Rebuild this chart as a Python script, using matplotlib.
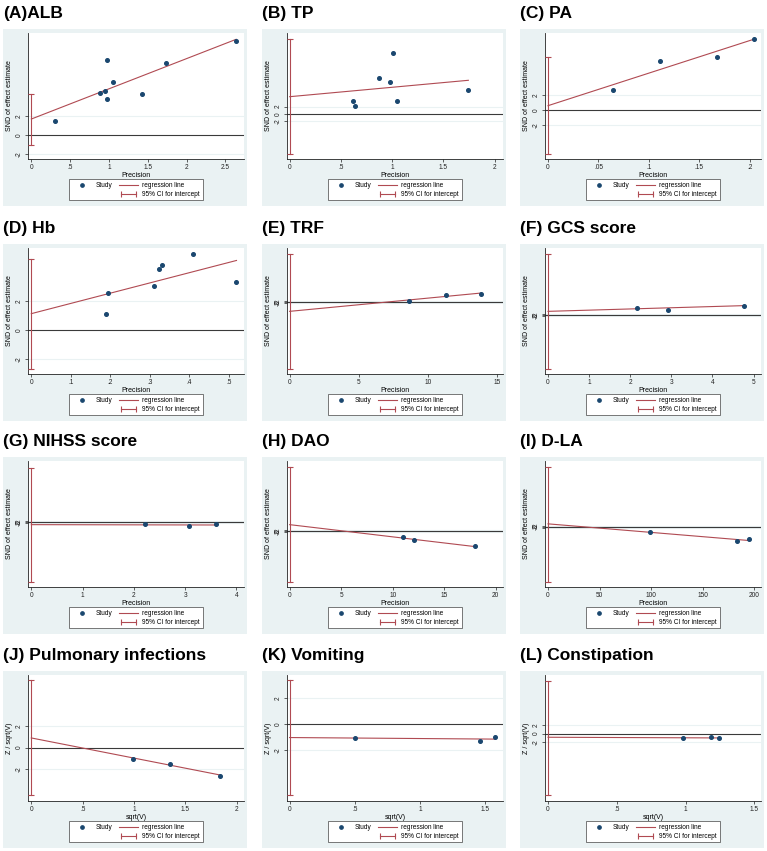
import matplotlib
matplotlib.use("Agg")
import matplotlib.pyplot as plt
from matplotlib.lines import Line2D
from matplotlib.patches import Rectangle
from matplotlib.legend_handler import HandlerLine2D

plt.rcParams['font.family'] = ['Liberation Sans', 'DejaVu Sans']

# ---- data (precision vs standard normal deviate) ----
titles = ["(A)ALB", "(B) TP", "(C) PA", "(D) Hb", "(E) TRF", "(F) GCS score",
          "(G) NIHSS score", "(H) DAO", "(I) D-LA", "(J) Pulmonary infections",
          "(K) Vomiting", "(L) Constipation"]

alb_x = [0.31, 0.885, 0.95, 0.98, 0.97, 1.057, 1.43, 1.73, 2.64]
alb_y = [1.44, 4.42, 4.67, 3.79, 7.93, 5.61, 4.35, 7.54, 9.89]
alb_fit = [1.68, 3.18]          # intercept, slope
alb_ci = [-1.09, 4.28]

tp_x = [0.621, 0.637, 0.872, 0.979, 1.011, 1.047, 1.743]
tp_y = [3.57, 2.14, 9.73, 8.48, 16.25, 3.48, 6.34]
tp_fit = [4.64, 2.52]
tp_ci = [-10.8, 20.0]

pa_x = [0.0641, 0.1107, 0.1676, 0.204]
pa_y = [2.76, 6.58, 7.11, 9.47]
pa_fit = [0.62, 43.4]
pa_ci = [-5.87, 7.07]

hb_x = [0.188, 0.193, 0.310, 0.322, 0.330, 0.410, 0.519]
hb_y = [1.09, 2.56, 3.09, 4.28, 4.53, 5.33, 3.35]
hb_fit = [1.14, 7.15]
hb_ci = [-2.70, 4.95]

trf_x = [8.62, 11.3, 13.9]
trf_y = [2.7, 14.0, 16.7]
trf_fit = [-18.7, 2.64]
trf_ci = [-134, 96]

gcs_x = [2.16, 2.92, 4.76]
gcs_y = [14.7, 9.3, 18.7]
gcs_fit = [7.3, 2.4]
gcs_ci = [-108, 122]

nihss_x = [2.21, 3.08, 3.60]
nihss_y = [-4.7, -8.0, -4.0]
nihss_fit = [-5.3, -0.19]
nihss_ci = [-119, 109]

dao_x = [11.0, 12.1, 18.03]
dao_y = [-11.3, -18.7, -30.7]
dao_fit = [12.7, -2.44]
dao_ci = [-102, 128]

dla_x = [99.2, 183.5, 195.2]
dla_y = [-11.3, -29.3, -25.3]
dla_fit = [5.3, -0.171]
dla_ci = [-110.7, 119.3]

pulm_x = [0.987, 1.35, 1.84]
pulm_y = [-1.03, -1.5, -2.63]
pulm_fit = [0.91, -1.89]
pulm_ci = [-4.44, 6.34]

vom_x = [0.504, 1.46, 1.575]
vom_y = [-1.05, -1.31, -1.0]
vom_fit = [-1.03, -0.076]
vom_ci = [-5.44, 3.41]

con_x = [0.979, 1.187, 1.245]
con_y = [-1.04, -0.8, -1.12]
con_fit = [-0.88, -0.13]
con_ci = [-14.7, 12.7]

xtick_sets = [
    [0, 0.5, 1, 1.5, 2, 2.5], [0, 0.5, 1, 1.5, 2], [0, 0.05, 0.1, 0.15, 0.2],
    [0, 0.1, 0.2, 0.3, 0.4, 0.5], [0, 5, 10, 15], [0, 1, 2, 3, 4, 5],
    [0, 1, 2, 3, 4], [0, 5, 10, 15, 20], [0, 50, 100, 150, 200],
    [0, 0.5, 1, 1.5, 2], [0, 0.5, 1, 1.5], [0, 0.5, 1, 1.5]]
xlims = [(-0.043, 2.741), (-0.026, 2.081), (-0.003, 0.2112), (-0.0084, 0.538),
         (-0.19, 15.46), (-0.073, 5.18), (-0.065, 4.15), (-0.26, 20.71),
         (-2.9, 206.5), (-0.032, 2.07), (-0.02, 1.637), (-0.022, 1.548)]
ylims = [(-2.53, 10.74), (-12.05, 21.7), (-6.49, 10.31), (-3.07, 5.72),
         (-144, 108), (-118, 134), (-130, 122), (-112, 140), (-121, 131),
         (-5.0, 6.81), (-5.9, 3.77), (-16.2, 14.08)]

xs_all = [alb_x, tp_x, pa_x, hb_x, trf_x, gcs_x, nihss_x, dao_x, dla_x, pulm_x, vom_x, con_x]
ys_all = [alb_y, tp_y, pa_y, hb_y, trf_y, gcs_y, nihss_y, dao_y, dla_y, pulm_y, vom_y, con_y]
fits = [alb_fit, tp_fit, pa_fit, hb_fit, trf_fit, gcs_fit, nihss_fit, dao_fit, dla_fit, pulm_fit, vom_fit, con_fit]
cis = [alb_ci, tp_ci, pa_ci, hb_ci, trf_ci, gcs_ci, nihss_ci, dao_ci, dla_ci, pulm_ci, vom_ci, con_ci]

# ---- layout (pixels) ----
W, H = 767, 851
col_left = [3, 262, 520]
row_top = [29, 244, 457, 671]
bg_w, bg_h = 244, 177

navy = '#1A476F'
maroon = '#B04A52'
bg = '#EAF2F3'


def fbox(x, y, w, h):
    return [x / W, 1 - (y + h) / H, w / W, h / H]


def stata_fmt(v):
    s = ('%g' % v)
    if s.startswith('0.'):
        s = s[1:]
    return s


fig = plt.figure(figsize=(W / 100, H / 100), dpi=100)
fig.patch.set_facecolor('white')

for i in range(12):
    r, c = divmod(i, 3)
    bx, by = col_left[c], row_top[r]
    fig.add_artist(Rectangle((bx / W, 1 - (by + bg_h) / H), bg_w / W, bg_h / H,
                             transform=fig.transFigure, fc=bg, ec='none', zorder=0))
    fig.text(bx / W, 1 - (by - 11) / H, titles[i], fontsize=12.5, fontweight='bold',
             ha='left', va='baseline')

    ax = fig.add_axes(fbox(bx + 25, by + 4, 216, 126))
    ax.set_facecolor('white')
    ax.set_xlim(*xlims[i])
    ax.set_ylim(*ylims[i])

    # light grid at the y ticks, dark reference line at zero
    for g in [-2, 2]:
        ax.axhline(g, color=bg, lw=0.8, zorder=1)
    ax.axhline(0, color='#3a3a3a', lw=0.8, zorder=2)

    x, y = xs_all[i], ys_all[i]
    b0, b1 = fits[i]
    lo, hi = cis[i]
    ax.plot(x, y, 'o', ms=2.6, color=navy, zorder=4)
    line_x = [0, max(x)]
    ax.plot(line_x, [b0 + b1 * v for v in line_x], color=maroon, lw=0.8, zorder=3)
    ax.plot([0, 0], [lo, hi], color=maroon, lw=0.8, marker='_', ms=5, mew=0.8, zorder=3)

    for s in ['top', 'right']:
        ax.spines[s].set_visible(False)
    for s in ['left', 'bottom']:
        ax.spines[s].set_linewidth(0.6)
        ax.spines[s].set_color('#222222')

    xt = xtick_sets[i]
    ax.set_xticks(xt)
    ax.set_xticklabels([stata_fmt(v) for v in xt])
    ax.set_yticks([-2, 0, 2])
    ax.set_yticklabels(['-2', '0', '2'], rotation=90, va='center')
    ax.tick_params(length=2, width=0.5, labelsize=4.7, pad=1.5, colors='#222222')

    if i < 9:
        ax.set_xlabel('Precision', fontsize=5, labelpad=0.5)
        ax.set_ylabel('SND of effect estimate', fontsize=5, labelpad=2)
    else:
        ax.set_xlabel('sqrt(V)', fontsize=5, labelpad=0.5)
        ax.set_ylabel('Z / sqrt(V)', fontsize=5, labelpad=2)

    h_study = Line2D([], [], marker='o', ms=2.4, color=navy, linestyle='none')
    h_blank = Line2D([], [], linestyle='none')
    h_reg = Line2D([], [], color=maroon, lw=0.8)
    h_ci = Line2D([], [], color=maroon, lw=0.8, marker='|', ms=5, mew=0.8)
    leg = ax.legend([h_study, h_blank, h_reg, h_ci],
                    ['Study', '', 'regression line', '95% CI for intercept'],
                    ncol=2, loc='center', bbox_to_anchor=(0.5, -0.245),
                    fontsize=4.7, frameon=True, fancybox=False, framealpha=1,
                    edgecolor='#444444', handlelength=3.0, columnspacing=1.0,
                    borderpad=0.4, labelspacing=0.3, handletextpad=0.6,
                    handler_map={h_ci: HandlerLine2D(numpoints=2)})
    leg.get_frame().set_linewidth(0.5)

fig.savefig('out.png', dpi=100)
